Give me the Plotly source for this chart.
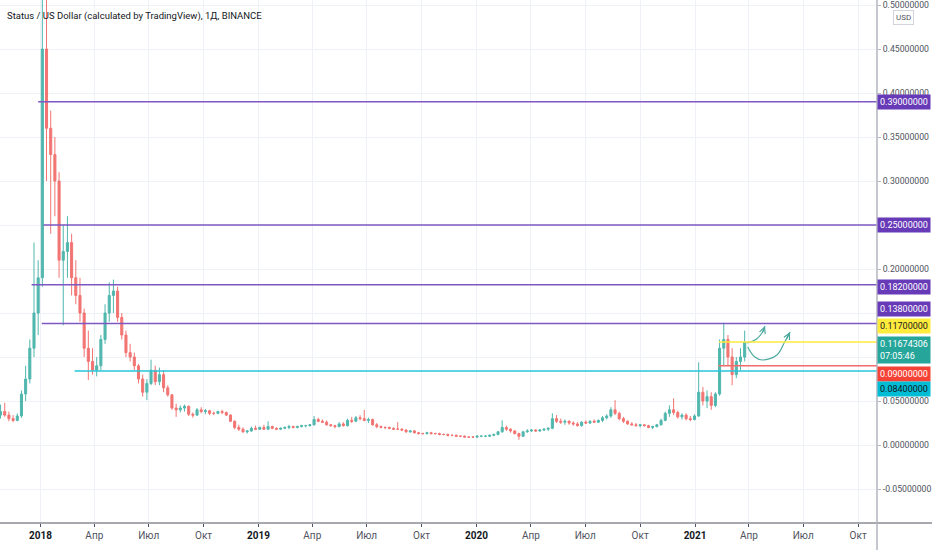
import pandas as pd
import plotly.graph_objects as go

# ---------------- data ----------------
week_start = "2017-10-26"   # weekly candles (centre of week)
opens = [0.034,0.038,0.034,0.030,0.028,0.033,0.058,0.075,0.110,0.150,
         0.190,0.450,0.360,0.330,0.300,0.210,0.220,0.230,0.190,0.170,
         0.150,0.110,0.095,0.085,0.090,0.120,0.150,0.170,0.175,0.145,
         0.125,0.105,0.100,0.090,0.075,0.060,0.070,0.085,0.072,0.080,
         0.065,0.057,0.042,0.040,0.042,0.044,0.035,0.034,0.040,0.038,
         0.039,0.036,0.036,0.038,0.037,0.034,0.027,0.020,0.018,0.015,
         0.016,0.019,0.018,0.020,0.018,0.021,0.019,0.018,0.019,0.020,
         0.021,0.020,0.021,0.022,0.022,0.023,0.029,0.027,0.026,0.023,
         0.022,0.021,0.024,0.022,0.028,0.027,0.031,0.030,0.028,0.029,
         0.023,0.021,0.020,0.020,0.019,0.018,0.018,0.017,0.015,0.016,
         0.014,0.013,0.013,0.014,0.013,0.013,0.012,0.012,0.011,0.011,
         0.010,0.010,0.009,0.009,0.009,0.010,0.010,0.010,0.011,0.012,
         0.015,0.020,0.018,0.016,0.013,0.010,0.015,0.016,0.017,0.016,
         0.017,0.018,0.019,0.030,0.027,0.026,0.027,0.025,0.024,0.022,
         0.026,0.025,0.027,0.026,0.028,0.031,0.033,0.040,0.036,0.030,
         0.027,0.024,0.023,0.022,0.023,0.022,0.020,0.021,0.023,0.028,
         0.036,0.040,0.037,0.032,0.034,0.030,0.029,0.033,0.060,0.050,
         0.055,0.045,0.058,0.110,0.120,0.100,0.080,0.095,0.100]
highs = [0.046,0.048,0.038,0.034,0.036,0.062,0.090,0.120,0.230,0.210,
         0.620,0.560,0.380,0.350,0.310,0.250,0.260,0.240,0.210,0.190,
         0.155,0.130,0.110,0.100,0.125,0.160,0.185,0.188,0.180,0.150,
         0.130,0.115,0.105,0.092,0.080,0.075,0.097,0.090,0.088,0.085,
         0.068,0.058,0.047,0.045,0.046,0.045,0.037,0.042,0.043,0.041,
         0.040,0.038,0.039,0.040,0.038,0.035,0.028,0.023,0.020,0.017,
         0.021,0.022,0.021,0.023,0.027,0.022,0.020,0.020,0.021,0.023,
         0.022,0.022,0.023,0.023,0.024,0.033,0.031,0.029,0.028,0.024,
         0.023,0.026,0.026,0.030,0.032,0.033,0.034,0.040,0.031,0.030,
         0.025,0.022,0.021,0.021,0.020,0.026,0.019,0.018,0.017,0.017,
         0.015,0.014,0.015,0.015,0.014,0.014,0.013,0.013,0.012,0.012,
         0.011,0.011,0.010,0.010,0.011,0.011,0.011,0.012,0.013,0.016,
         0.028,0.022,0.019,0.017,0.014,0.016,0.018,0.018,0.018,0.018,
         0.019,0.020,0.036,0.034,0.030,0.029,0.028,0.027,0.026,0.027,
         0.028,0.028,0.029,0.029,0.033,0.035,0.043,0.051,0.038,0.032,
         0.028,0.026,0.025,0.024,0.024,0.023,0.022,0.024,0.030,0.038,
         0.045,0.053,0.039,0.036,0.036,0.033,0.035,0.094,0.066,0.062,
         0.060,0.060,0.120,0.139,0.125,0.110,0.100,0.110,0.130]
lows = [0.030,0.032,0.027,0.026,0.027,0.031,0.050,0.070,0.100,0.125,
        0.180,0.300,0.240,0.260,0.190,0.136,0.190,0.170,0.160,0.140,
        0.100,0.074,0.080,0.078,0.085,0.115,0.140,0.150,0.140,0.120,
        0.100,0.095,0.085,0.070,0.055,0.051,0.068,0.068,0.068,0.060,
        0.055,0.040,0.032,0.037,0.038,0.033,0.031,0.033,0.036,0.035,
        0.034,0.034,0.035,0.035,0.033,0.026,0.018,0.016,0.014,0.013,
        0.015,0.017,0.017,0.017,0.017,0.018,0.017,0.017,0.018,0.018,
        0.019,0.019,0.020,0.020,0.021,0.022,0.026,0.025,0.022,0.021,
        0.019,0.020,0.021,0.021,0.025,0.026,0.028,0.027,0.025,0.022,
        0.019,0.019,0.018,0.018,0.017,0.017,0.016,0.014,0.014,0.013,
        0.012,0.012,0.012,0.012,0.012,0.011,0.011,0.010,0.010,0.009,
        0.009,0.009,0.008,0.008,0.008,0.009,0.009,0.009,0.010,0.011,
        0.014,0.016,0.014,0.012,0.006,0.009,0.014,0.015,0.015,0.015,
        0.016,0.016,0.018,0.025,0.024,0.023,0.023,0.022,0.021,0.021,
        0.024,0.024,0.025,0.025,0.026,0.029,0.031,0.034,0.028,0.025,
        0.023,0.022,0.021,0.020,0.021,0.019,0.018,0.020,0.022,0.027,
        0.032,0.034,0.030,0.029,0.028,0.027,0.028,0.032,0.045,0.042,
        0.040,0.043,0.056,0.090,0.090,0.068,0.076,0.085,0.095]
closes = [0.038,0.034,0.030,0.028,0.033,0.058,0.075,0.110,0.150,0.190,
          0.450,0.360,0.330,0.300,0.210,0.220,0.230,0.190,0.170,0.150,
          0.110,0.095,0.085,0.090,0.120,0.150,0.170,0.175,0.145,0.125,
          0.105,0.100,0.090,0.075,0.060,0.070,0.085,0.072,0.080,0.065,
          0.057,0.042,0.040,0.042,0.044,0.035,0.034,0.040,0.038,0.039,
          0.036,0.036,0.038,0.037,0.034,0.027,0.020,0.018,0.015,0.016,
          0.019,0.018,0.020,0.018,0.021,0.019,0.018,0.019,0.020,0.021,
          0.020,0.021,0.022,0.022,0.023,0.029,0.027,0.026,0.023,0.022,
          0.021,0.024,0.022,0.028,0.027,0.031,0.030,0.028,0.029,0.023,
          0.021,0.020,0.020,0.019,0.018,0.018,0.017,0.015,0.016,0.014,
          0.013,0.013,0.014,0.013,0.013,0.012,0.012,0.011,0.011,0.010,
          0.010,0.009,0.009,0.009,0.010,0.010,0.010,0.011,0.012,0.015,
          0.020,0.018,0.016,0.013,0.010,0.015,0.016,0.017,0.016,0.017,
          0.018,0.019,0.030,0.027,0.026,0.027,0.025,0.024,0.022,0.026,
          0.025,0.027,0.026,0.028,0.031,0.033,0.040,0.036,0.030,0.027,
          0.024,0.023,0.022,0.023,0.022,0.020,0.021,0.023,0.028,0.036,
          0.040,0.037,0.032,0.034,0.030,0.029,0.033,0.060,0.050,0.055,
          0.045,0.058,0.110,0.120,0.100,0.080,0.095,0.100,0.11674306]

# horizontal levels drawn on the chart
level_values = [0.39, 0.25, 0.182, 0.138, 0.117, 0.09, 0.084]
level_starts = ["2017-12-28", "2018-01-06", "2017-12-17", "2018-01-03",
                "2021-02-10", "2021-02-09", "2018-02-27"]
last_price = 0.11674306
countdown = "07:05:46"

# x-axis ticks
tick_dates = ["2018-01-01", "2018-04-01", "2018-07-01", "2018-10-01",
              "2019-01-01", "2019-04-01", "2019-07-01", "2019-10-01",
              "2020-01-01", "2020-04-01", "2020-07-01", "2020-10-01",
              "2021-01-01", "2021-04-01", "2021-07-01", "2021-10-01"]
tick_names = ["2018", "Апр", "Июл", "Окт", "2019", "Апр", "Июл", "Окт",
              "2020", "Апр", "Июл", "Окт", "2021", "Апр", "Июл", "Окт"]
y_ticks = [-0.05, 0.0, 0.05, 0.10, 0.15, 0.20, 0.25, 0.30, 0.35, 0.40, 0.45, 0.50]
y_hidden = [0.10, 0.15, 0.25]   # covered by level labels in the original

# drawn forecast arrows (drawing tool)
arrow1_x = ["2021-03-29", "2021-04-14", "2021-04-24", "2021-04-28"]
arrow1_y = [0.1159, 0.1205, 0.1284, 0.1352]
arrow2_x = ["2021-03-30", "2021-04-11", "2021-04-24", "2021-05-18", "2021-05-31", "2021-06-09"]
arrow2_y = [0.1114, 0.1000, 0.0966, 0.1023, 0.1170, 0.1284]

title_text = "Status / US Dollar (calculated by TradingView), 1Д, BINANCE"

# ---------------- styling ----------------
FONT = "Roboto, sans-serif"
UP, DOWN = "#26a69a", "#ef5350"
GRID = "#eef1f6"
X_RANGE = ["2017-10-25 02:00", "2021-11-01 14:00"]
Y_RANGE = [-0.0886, 0.5057]
LBL = 9

line_colors = ["#7e57c2", "#7e57c2", "#7e57c2", "#7e57c2", "#ffeb3b", "#f26b6b", "#26c6da"]
label_bg = ["#673ab7", "#673ab7", "#673ab7", "#673ab7", "#ffeb3b", "#f44336", "#00bcd4"]
label_fg = ["white", "white", "white", "white", "#131722", "white", "#131722"]
label_shift = [0, 0, -2, 15, 16, -8, -18]

dates = pd.date_range(week_start, periods=len(opens), freq="7D")

fig = go.Figure()
fig.add_trace(go.Candlestick(
    x=dates, open=opens, high=highs, low=lows, close=closes,
    increasing=dict(line=dict(color=UP, width=1), fillcolor=UP),
    decreasing=dict(line=dict(color=DOWN, width=1), fillcolor=DOWN),
    opacity=0.8, whiskerwidth=0, hoverinfo="skip", name=""))

shapes = []
for v, s, c in zip(level_values, level_starts, line_colors):
    shapes.append(dict(type="line", xref="x", yref="y", x0=s, x1=X_RANGE[1],
                       y0=v, y1=v, line=dict(color=c, width=1.5), layer="above"))
# bottom axis line across full width, right axis separator
shapes.append(dict(type="line", xref="paper", yref="paper", x0=0, x1=932 / 877,
                   y0=0, y1=0, line=dict(color="#50535e", width=1)))
shapes.append(dict(type="line", xref="paper", yref="paper", x0=1, x1=1,
                   y0=-27 / 523, y1=1, line=dict(color="#b2b5be", width=1.5)))

# forecast arrows
for ax_, ay_ in ((arrow1_x, arrow1_y), (arrow2_x, arrow2_y)):
    fig.add_trace(go.Scatter(x=ax_, y=ay_, mode="lines",
                             line=dict(color="#4aa99d", width=1.2, shape="spline"),
                             hoverinfo="skip"))

annotations = []
for tipx, tipy, offx, offy in ((arrow1_x[-1], arrow1_y[-1], -3, 8),
                               (arrow2_x[-1], arrow2_y[-1], -4, 8)):
    annotations.append(dict(x=tipx, y=tipy, xref="x", yref="y", ax=offx, ay=offy,
                            text="", showarrow=True, arrowhead=5, arrowsize=1,
                            arrowwidth=1.2, arrowcolor="#4aa99d"))

for v, bg, fg, sh in zip(level_values, label_bg, label_fg, label_shift):
    annotations.append(dict(x=1, xref="paper", y=v, yref="y", xanchor="left",
                            yanchor="middle", yshift=sh, showarrow=False,
                            text=f"{v:.8f}", bgcolor=bg, borderpad=2,
                            font=dict(family=FONT, size=LBL, color=fg)))
annotations.append(dict(x=1, xref="paper", y=last_price, yref="y", xanchor="left",
                        yanchor="middle", yshift=-8, showarrow=False, align="left",
                        text=f"{last_price:.8f}<br>{countdown}", bgcolor=UP, borderpad=2,
                        font=dict(family=FONT, size=LBL, color="white")))
annotations.append(dict(x=5 / 877, xref="paper", y=1 - 16 / 523, yref="paper",
                        xanchor="left", yanchor="middle", showarrow=False,
                        text=title_text, font=dict(family=FONT, size=9.5, color="#131722")))
annotations.append(dict(x=904 / 877, xref="paper", y=1 - 17 / 523, yref="paper",
                        xanchor="center", yanchor="middle", showarrow=False,
                        text="USD", bgcolor="white", bordercolor="#d1d4dc", borderwidth=1,
                        borderpad=2, font=dict(family=FONT, size=8, color="#50535e")))

tick_text = [f"<span style='color:#131722'><b>{t}</b></span>" if t.isdigit()
             else f"<span style='color:#50535e'>{t}</span>" for t in tick_names]
y_text = ["" if any(abs(t - h) < 1e-9 for h in y_hidden) else f"{t:.8f}" for t in y_ticks]

fig.update_layout(
    width=932, height=550, margin=dict(l=0, r=55, t=0, b=27, autoexpand=False),
    paper_bgcolor="white", plot_bgcolor="white", showlegend=False,
    font=dict(family=FONT, size=10, color="#50535e"),
    shapes=shapes, annotations=annotations,
    xaxis=dict(type="date", range=X_RANGE, tickvals=tick_dates, ticktext=tick_text,
               showgrid=True, gridcolor=GRID, gridwidth=1, ticks="outside", ticklen=3,
               tickcolor="#50535e", showline=False, zeroline=False, automargin=False,
               rangeslider=dict(visible=False), fixedrange=True,
               tickfont=dict(family=FONT, size=10)),
    yaxis=dict(side="right", range=Y_RANGE, tickvals=y_ticks, ticktext=y_text,
               showgrid=True, gridcolor=GRID, gridwidth=1, ticks="outside", ticklen=3,
               tickcolor="#b2b5be", showline=False, zeroline=False, fixedrange=True,
               automargin=False, tickfont=dict(family=FONT, size=8.7, color="#50535e")),
)

fig.write_html("out.html", config={"displayModeBar": False},
               post_script="document.body.style.margin='0';")
